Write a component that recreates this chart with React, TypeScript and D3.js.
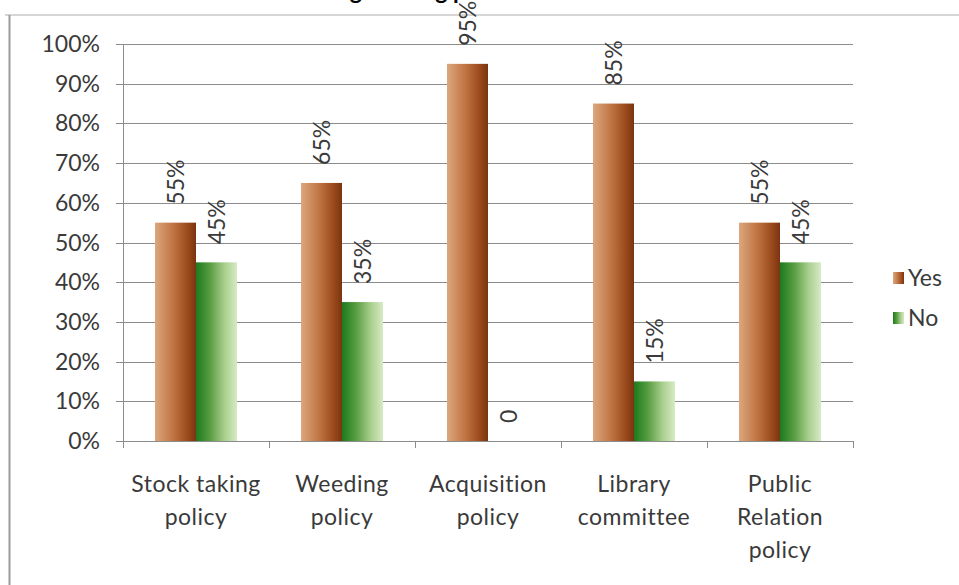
import React from "react";
import * as d3 from "d3";

const categories: string[][] = [
  ["Stock taking", "policy"],
  ["Weeding", "policy"],
  ["Acquisition", "policy"],
  ["Library", "committee"],
  ["Public", "Relation", "policy"],
];
const seriesNames = ["Yes", "No"];
const yesValues = [0.55, 0.65, 0.95, 0.85, 0.55];
const noValues = [0.45, 0.35, 0, 0.15, 0.45];
const yesLabels = ["55%", "65%", "95%", "85%", "55%"];
const noLabels = ["45%", "35%", "0", "15%", "45%"];
const yTicks = [0, 0.1, 0.2, 0.3, 0.4, 0.5, 0.6, 0.7, 0.8, 0.9, 1.0];
const title = "Libraries having existing policies";

const W = 959;
const H = 585;
const FONT = "Lato, 'Noto Sans', sans-serif";
const TEXT = "#3a3a3a";
const FS = 23;

export default function App() {
  const x = d3
    .scaleBand<number>()
    .domain(d3.range(categories.length))
    .range([123, 853])
    .paddingInner(0)
    .paddingOuter(0);
  const inner = d3
    .scaleBand<string>()
    .domain(seriesNames)
    .range([0, x.bandwidth()])
    .paddingOuter(0.78)
    .paddingInner(0);
  const y = d3.scaleLinear().domain([0, 1]).range([441, 44]);
  const fmt = d3.format(".0%");

  const series = [
    { name: "Yes", values: yesValues, labels: yesLabels, fill: "url(#gradYes)" },
    { name: "No", values: noValues, labels: noLabels, fill: "url(#gradNo)" },
  ];

  return (
    <svg
      width={W}
      height={H}
      style={{ position: "absolute", left: 0, top: 0, background: "#fff" }}
      fontFamily={FONT}
    >
      <defs>
        <linearGradient id="gradYes" x1="0" x2="1" y1="0" y2="0">
          <stop offset="0" stopColor="#dca77f" />
          <stop offset="0.45" stopColor="#c07442" />
          <stop offset="0.8" stopColor="#9a4a1c" />
          <stop offset="1" stopColor="#7a3410" />
        </linearGradient>
        <linearGradient id="gradNo" x1="0" x2="1" y1="0" y2="0">
          <stop offset="0" stopColor="#1d7a1d" />
          <stop offset="0.35" stopColor="#5a9e43" />
          <stop offset="0.7" stopColor="#a9cf8d" />
          <stop offset="1" stopColor="#d6eac6" />
        </linearGradient>
      </defs>

      {/* chart frame */}
      <line x1={5} x2={W} y1={15} y2={15} stroke="#c8c8c8" strokeWidth={1.5} />
      <line x1={9.5} x2={9.5} y1={15} y2={H} stroke="#9a9a9a" strokeWidth={2} />

      {/* title, running off the top edge of the page */}
      <text x={201} y={-1} fontSize={23} fontWeight="bold" fill="#000">
        {title}
      </text>

      {/* gridlines and y ticks */}
      {yTicks.map((t) => (
        <g key={t}>
          <line
            x1={116}
            x2={853}
            y1={Math.round(y(t)) + 0.5}
            y2={Math.round(y(t)) + 0.5}
            stroke="#8c8c8c"
            strokeWidth={1}
          />
          <text x={100} y={y(t)} dy="0.35em" textAnchor="end" fontSize={FS} fill={TEXT}>
            {fmt(t)}
          </text>
        </g>
      ))}
      <line x1={123.5} x2={123.5} y1={y(1)} y2={448} stroke="#8c8c8c" />
      {d3.range(categories.length + 1).map((i) => {
        const xx = i < categories.length ? x(i)! : x(categories.length - 1)! + x.bandwidth();
        return (
          <line
            key={i}
            x1={Math.round(xx) + 0.5}
            x2={Math.round(xx) + 0.5}
            y1={441}
            y2={448}
            stroke="#8c8c8c"
          />
        );
      })}

      {/* bars */}
      {series.map((s) =>
        s.values.map((v, i) => (
          <rect
            key={s.name + i}
            x={x(i)! + inner(s.name)!}
            y={y(v)}
            width={inner.bandwidth()}
            height={y(0) - y(v)}
            fill={s.fill}
          />
        ))
      )}

      {/* value labels, rotated to read upward */}
      {series.map((s) =>
        s.values.map((v, i) => {
          const cx = x(i)! + inner(s.name)! + inner.bandwidth() / 2;
          const ty = y(v) - 18;
          return (
            <text
              key={"l" + s.name + i}
              transform={`translate(${cx},${ty}) rotate(-90)`}
              dy="0.35em"
              fontSize={FS}
              fill={TEXT}
            >
              {s.labels[i]}
            </text>
          );
        })
      )}

      {/* category labels */}
      {categories.map((lines, i) => (
        <text
          key={"c" + i}
          x={x(i)! + x.bandwidth() / 2}
          y={492}
          textAnchor="middle"
          fontSize={FS}
          letterSpacing={0.5}
          fill={TEXT}
        >
          {lines.map((ln, j) => (
            <tspan key={j} x={x(i)! + x.bandwidth() / 2} dy={j === 0 ? 0 : 33}>
              {ln}
            </tspan>
          ))}
        </text>
      ))}

      {/* legend */}
      {series.map((s, k) => (
        <g key={"lg" + s.name} transform={`translate(893,${272 + k * 40})`}>
          <rect x={0} y={0} width={11} height={12} fill={s.fill} />
          <text x={15} y={6} dy="0.35em" fontSize={FS} fill={TEXT}>
            {s.name}
          </text>
        </g>
      ))}
    </svg>
  );
}
